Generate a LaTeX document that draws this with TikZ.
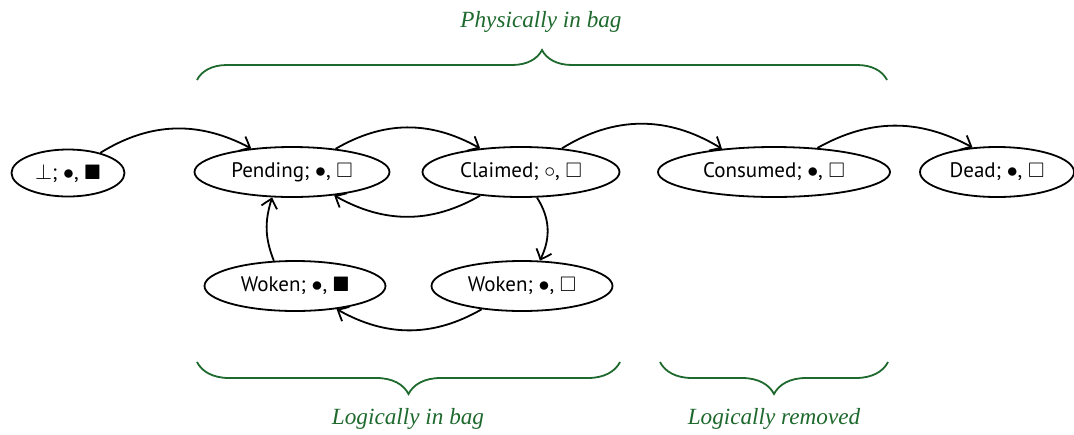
\documentclass[tikz,border=0pt]{standalone}
\usepackage{amssymb}
\usepackage{fontspec}
\setmainfont{Liberation Serif}
\newfontfamily\nodefont{PT Sans}
\usetikzlibrary{shapes.geometric,arrows.meta,bending,decorations.pathreplacing}
\definecolor{bracegreen}{RGB}{30,105,45}
\begin{document}
\begin{tikzpicture}[x=0.5pt,y=0.5pt,
  state/.style={draw,ellipse,line width=0.9pt,inner sep=0pt,minimum height=25pt,font=\nodefont\fontsize{10.5}{12}\selectfont},
  trans/.style={line width=0.9pt,-{Straight Barb[length=4.5pt,width=8pt,bend]}},
  bracestyle/.style={draw=bracegreen,line width=0.9pt,decorate,decoration={brace,amplitude=#1}},
  lab/.style={text=bracegreen,font=\itshape\fontsize{11.6}{14}\selectfont}]
\useasboundingbox (0,0) rectangle (1074,-434);
\node[state,minimum width=56.5pt,minimum height=23.5pt] (bot) at (68,-173) {$\bot$; $\bullet$, $\blacksquare$};
\node[state,minimum width=97.5pt] (pend) at (292,-172) {Pending; $\bullet$, $\square$};
\node[state,minimum width=98.5pt] (claim) at (521,-172) {Claimed; $\circ$, $\square$};
\node[state,minimum width=116pt] (cons) at (774,-172) {Consumed; $\bullet$, $\square$};
\node[state,minimum width=77pt] (dead) at (997,-172) {Dead; $\bullet$, $\square$};
\node[state,minimum width=90.5pt] (wokb) at (295,-286) {Woken; $\bullet$, $\blacksquare$};
\node[state,minimum width=90.5pt] (woks) at (522,-286) {Woken; $\bullet$, $\square$};
\draw[trans] (bot.32) to[bend left=30] (pend.150);
\draw[trans] (pend.28) to[bend left=30] (claim.150);
\draw[trans] (claim.30) to[bend left=32] (cons.156);
\draw[trans] (cons.29) to[bend left=29] (dead.135);
\draw[trans] (claim.210) to[bend left=30] (pend.331);
\draw[trans] (claim.302) to[bend left=30] (woks.55);
\draw[trans] (woks.210) to[bend left=30] (wokb.331);
\draw[trans] (wokb.130) to[bend left=20] (pend.232);
\coordinate (tl) at (197,-80);
\coordinate (tr) at (887,-80);
\coordinate (bl1) at (197,-362);
\coordinate (br1) at (620,-362);
\coordinate (bl2) at (660,-362);
\coordinate (br2) at (888,-362);
\draw[bracestyle=15pt] (tl) -- (tr);
\draw[bracestyle=16pt] (br1) -- (bl1);
\draw[bracestyle=16pt] (br2) -- (bl2);
\node[lab] (phys) at (541,-22) {Physically in bag};
\node[lab] (login) at (408,-419) {Logically in bag};
\node[lab] (logrm) at (774,-419) {Logically removed};
\end{tikzpicture}
\end{document}
